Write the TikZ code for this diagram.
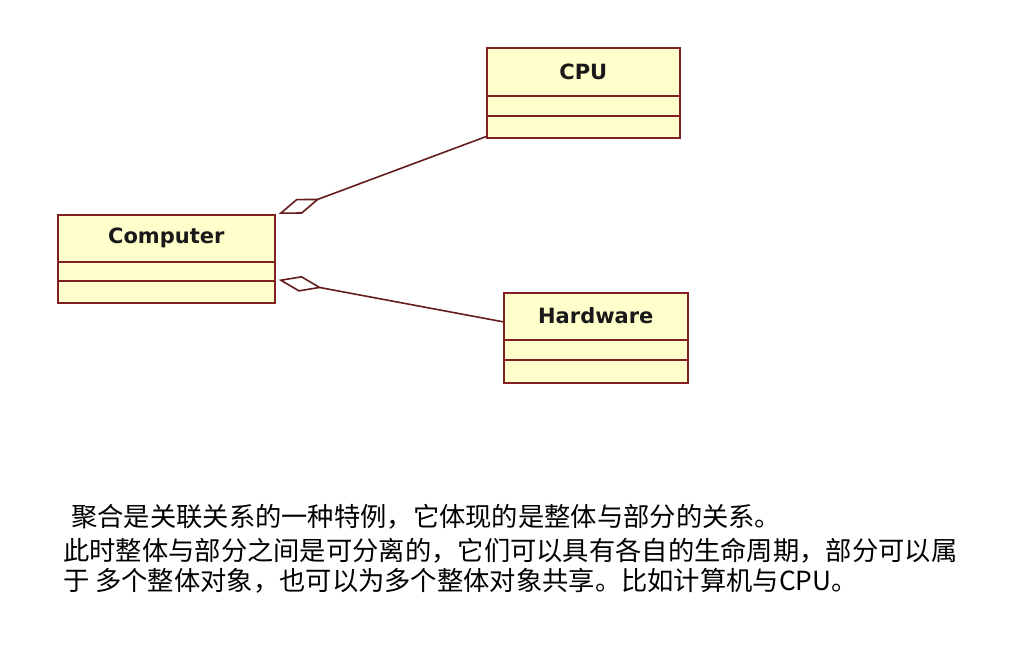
\documentclass[tikz,border=0pt]{standalone}
\usepackage{fontspec}
\setmainfont{DejaVu Sans}
\newfontfamily\cjk{Noto Sans CJK SC}
\usetikzlibrary{arrows.meta}
\definecolor{umlfill}{RGB}{255,255,204}
\definecolor{umlborder}{RGB}{128,32,32}
\definecolor{umlline}{RGB}{100,28,28}
\tikzset{
  classbox/.style={draw=umlborder, fill=umlfill, line width=1.6pt, anchor=north west, inner sep=0pt},
  divider/.style={draw=umlborder, line width=1.6pt},
  classtitle/.style={font=\fontsize{21}{24}\selectfont\bfseries, inner sep=0pt, text=black!90},
  aggregation/.style={draw=umlline, line width=1.6pt, -{Diamond[open, length=44pt, width=16pt, line width=1.6pt]}},
  note/.style={font=\cjk\fontsize{26.3}{30}\selectfont, anchor=west, inner sep=0pt, text=black}
}
\begin{document}
\begin{tikzpicture}[x=1pt, y=-1pt]
\useasboundingbox[fill=white] (0,0) rectangle (1012,658);

% CPU
\node[classbox, minimum width=193pt, minimum height=90pt] (cpu) at (486,47) {};
\draw[divider] ([yshift=-49pt]cpu.north west) -- ([yshift=-49pt]cpu.north east);
\draw[divider] ([yshift=-69pt]cpu.north west) -- ([yshift=-69pt]cpu.north east);
\node[classtitle] (cpulabel) at ([yshift=-24.5pt]cpu.north) {CPU};

% Computer
\node[classbox, minimum width=217pt, minimum height=88pt] (computer) at (57,214) {};
\draw[divider] ([yshift=-48pt]computer.north west) -- ([yshift=-48pt]computer.north east);
\draw[divider] ([yshift=-67pt]computer.north west) -- ([yshift=-67pt]computer.north east);
\node[classtitle] (computerlabel) at ([yshift=-24pt]computer.north) {Computer};

% Hardware
\node[classbox, minimum width=184pt, minimum height=90pt] (hardware) at (503,292) {};
\draw[divider] ([yshift=-48pt]hardware.north west) -- ([yshift=-48pt]hardware.north east);
\draw[divider] ([yshift=-68pt]hardware.north west) -- ([yshift=-68pt]hardware.north east);
\node[classtitle] (hardwarelabel) at ([yshift=-24pt]hardware.north) {Hardware};

% aggregations
\draw[aggregation] ([yshift=2pt]cpu.south west) -- ([xshift=3pt]computer.north east);
\draw[aggregation] ([yshift=16pt]hardware.west) -- ([xshift=3pt,yshift=-21pt]computer.east);

% note
\node[note] (line1) at (71,517) {聚合是关联关系的一种特例，它体现的是整体与部分的关系。};
\node[note] (line2) at (63,551) {此时整体与部分之间是可分离的，它们可以具有各自的生命周期，部分可以属};
\node[note] (line3) at (63,581) {于 多个整体对象，也可以为多个整体对象共享。比如计算机与CPU。};
\end{tikzpicture}
\end{document}
